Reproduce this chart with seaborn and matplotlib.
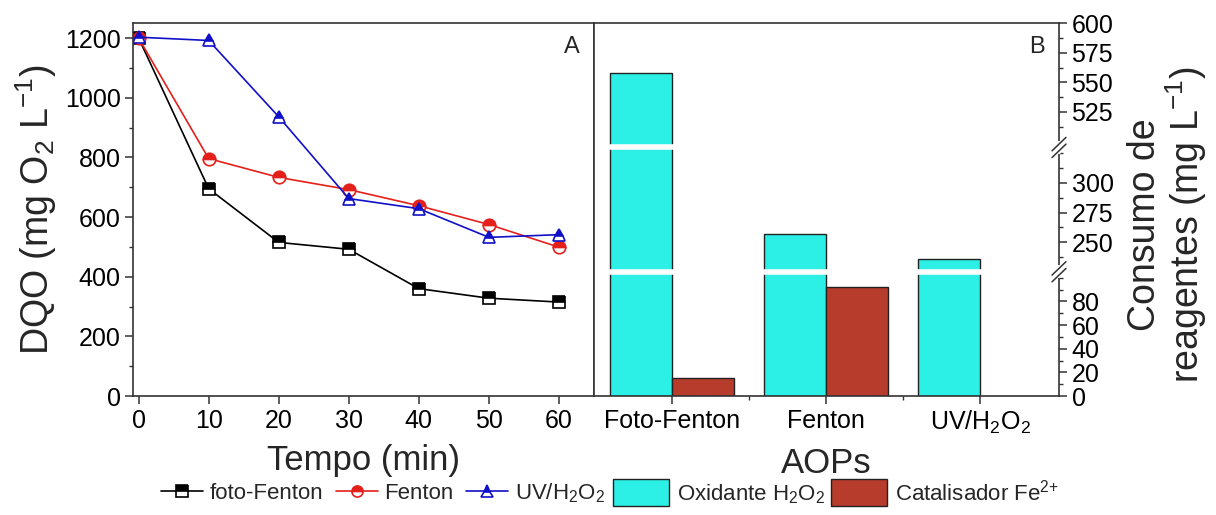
import numpy as np
import pandas as pd
import matplotlib
matplotlib.use("Agg")
import matplotlib.pyplot as plt
from matplotlib.lines import Line2D
from matplotlib.patches import Patch
from matplotlib.ticker import FixedLocator, MultipleLocator, FuncFormatter
import seaborn as sns

# ---- COD decay over time (panel A) ----
tempo = [0, 10, 20, 30, 40, 50, 60]
dqo_foto_fenton = [1200, 695, 515, 492, 360, 328, 315]
dqo_fenton = [1200, 796, 733, 692, 638, 575, 499]
dqo_uv_h2o2 = [1203, 1192, 936, 662, 628, 532, 541]

# ---- reagent consumption per process (panel B) ----
aops = ["Foto-Fenton", "Fenton", "UV/H$_2$O$_2$"]
oxidante_h2o2 = [558, 257, 236]
catalisador_fe = [15, 92, None]

sns.set_style("ticks")
plt.rcParams["font.family"] = ["Liberation Sans", "DejaVu Sans"]
plt.rcParams["mathtext.fontset"] = "custom"
plt.rcParams["mathtext.rm"] = "Liberation Sans"
plt.rcParams["mathtext.it"] = "Liberation Sans:italic"
plt.rcParams["mathtext.bf"] = "Liberation Sans:bold"
plt.rcParams["mathtext.default"] = "regular"
plt.rcParams["axes.edgecolor"] = "#333333"
plt.rcParams["axes.linewidth"] = 1.2
plt.rcParams["xtick.color"] = "#333333"
plt.rcParams["ytick.color"] = "#333333"
plt.rcParams["xtick.labelcolor"] = "black"
plt.rcParams["ytick.labelcolor"] = "black"

CYAN = "#2cf0e6"
BRICK = "#b83c2b"
COL_FF = "black"
COL_F = "#e3201b"
COL_UV = "#1010c8"

fig = plt.figure(figsize=(12.16, 5.15), dpi=100)
ax1 = fig.add_axes([0.1094, 0.231, 0.3791, 0.724])
ax2 = fig.add_axes([0.4885, 0.231, 0.3824, 0.724])

TICK_FS = 18
LABEL_FS = 25

# ---------------- Panel A ----------------
series = [
    ("foto-Fenton", dqo_foto_fenton, COL_FF, "s"),
    ("Fenton", dqo_fenton, COL_F, "o"),
    ("UV/H$_2$O$_2$", dqo_uv_h2o2, COL_UV, "^"),
]
line_handles = []
for name, vals, col, mk in series:
    df = pd.DataFrame({"Tempo": tempo, "DQO": vals})
    sns.lineplot(data=df, x="Tempo", y="DQO", ax=ax1, color=col, lw=1.2,
                 marker=mk, markersize=9, fillstyle="top",
                 markerfacecolor=col, markerfacecoloralt="white",
                 markeredgecolor=col, markeredgewidth=1.2)
    line_handles.append(Line2D([], [], color=col, lw=1.2, marker=mk,
                               markersize=8, fillstyle="top",
                               markerfacecolor=col, markerfacecoloralt="white",
                               markeredgecolor=col, markeredgewidth=1.2,
                               label=name))

ax1.set_xlim(-0.8, 65)
ax1.set_ylim(0, 1250)
ax1.set_xticks(tempo)
ax1.yaxis.set_major_locator(MultipleLocator(200))
ax1.yaxis.set_minor_locator(MultipleLocator(100))
ax1.tick_params(axis="both", which="major", direction="out", length=6,
                width=1.1, labelsize=TICK_FS, pad=3)
ax1.tick_params(axis="y", which="minor", direction="out", length=3, width=1)
ax1.set_xlabel("Tempo (min)", fontsize=LABEL_FS, labelpad=8)
ax1.set_ylabel("DQO (mg O$_2$ L$^{-1}$)", fontsize=27, labelpad=4)
ax1.text(0.97, 0.965, "A", transform=ax1.transAxes, ha="right", va="top",
         fontsize=17)

# ---------------- Panel B (broken value axis) ----------------
seg_vals = [0, 105, 225, 330, 495, 600]
seg_pos = [0, 105, 105 + 1e-9, 210, 210 + 1e-9, 315]


def fwd(v):
    v = np.asarray(v, dtype=float)
    return np.interp(v, seg_vals, seg_pos, left=-1e3, right=1e3)


def inv(u):
    u = np.asarray(u, dtype=float)
    return np.interp(u, seg_pos, seg_vals)


rows = []
for a, ox, cat in zip(aops, oxidante_h2o2, catalisador_fe):
    rows.append({"AOP": a, "Reagente": "Oxidante", "Consumo": ox})
    if cat is not None:
        rows.append({"AOP": a, "Reagente": "Catalisador", "Consumo": cat})
bars = pd.DataFrame(rows)

sns.barplot(data=bars, x="AOP", y="Consumo", hue="Reagente",
            hue_order=["Oxidante", "Catalisador"], order=aops,
            palette=[CYAN, BRICK], edgecolor="#222222", linewidth=1,
            width=0.8, saturation=1, legend=False, ax=ax2)

ax2.set_yscale("function", functions=(fwd, inv))
ax2.set_ylim(0, 600)
ax2.set_xlim(-0.506, 2.513)

major_y = [0, 20, 40, 60, 80, 250, 275, 300, 525, 550, 575, 600]
minor_y = [10, 30, 50, 70, 90, 100, 237.5, 262.5, 287.5, 312.5, 325,
           512.5, 537.5, 562.5, 587.5]
ax2.yaxis.set_major_locator(FixedLocator(major_y))
ax2.yaxis.set_minor_locator(FixedLocator(minor_y))
ax2.yaxis.set_major_formatter(FuncFormatter(lambda v, p: f"{v:g}"))
ax2.yaxis.tick_right()
ax2.yaxis.set_label_position("right")
ax2.xaxis.set_minor_locator(FixedLocator([0.5, 1.5]))
ax2.tick_params(axis="y", which="major", direction="out", length=6,
                width=1.1, labelsize=TICK_FS, pad=3)
ax2.tick_params(axis="y", which="minor", direction="out", length=3, width=1)
ax2.tick_params(axis="x", which="major", direction="out", length=6,
                width=1.1, labelsize=TICK_FS, pad=3)
ax2.tick_params(axis="x", which="minor", direction="out", length=3, width=1)
ax2.set_xlabel("AOPs", fontsize=LABEL_FS, labelpad=8)
ax2.set_ylabel("Consumo de\nreagentes (mg L$^{-1}$)", fontsize=27,
               labelpad=10, linespacing=1.0)
ax2.yaxis.label.set_y(0.46)
ax2.text(0.97, 0.965, "B", transform=ax2.transAxes, ha="right", va="top",
         fontsize=17)

# white gaps through the bars where the value axis is cut
for cut in (105, 330):
    ax2.axhline(cut, color="white", lw=4, zorder=2)

# break marks on the right spine
for yb in (105 / 315, 210 / 315):
    ax2.plot([1, 1], [yb - 0.012, yb + 0.012], transform=ax2.transAxes,
             color="white", lw=3, clip_on=False, zorder=5)
    for dy in (-0.009, 0.009):
        ax2.plot([0.985, 1.015], [yb + dy - 0.018, yb + dy + 0.018],
                 transform=ax2.transAxes, color="#333333", lw=1.1,
                 clip_on=False, zorder=6)

# ---------------- Legends ----------------
fig.legend(handles=line_handles, loc="center left",
           bbox_to_anchor=(0.125, 0.043), ncol=3, frameon=False,
           fontsize=16, handlelength=1.9, handletextpad=0.3,
           columnspacing=0.55, borderaxespad=0)
patch_handles = [
    Patch(facecolor=CYAN, edgecolor="#222222", label="Oxidante H$_2$O$_2$"),
    Patch(facecolor=BRICK, edgecolor="#222222", label="Catalisador Fe$^{2{+}}$"),
]
fig.legend(handles=patch_handles, loc="center left",
           bbox_to_anchor=(0.497, 0.043), ncol=2, frameon=False,
           fontsize=16, handlelength=2.5, handleheight=1.5,
           handletextpad=0.35, columnspacing=0.3, borderaxespad=0)

fig.savefig("out.png", dpi=100)
